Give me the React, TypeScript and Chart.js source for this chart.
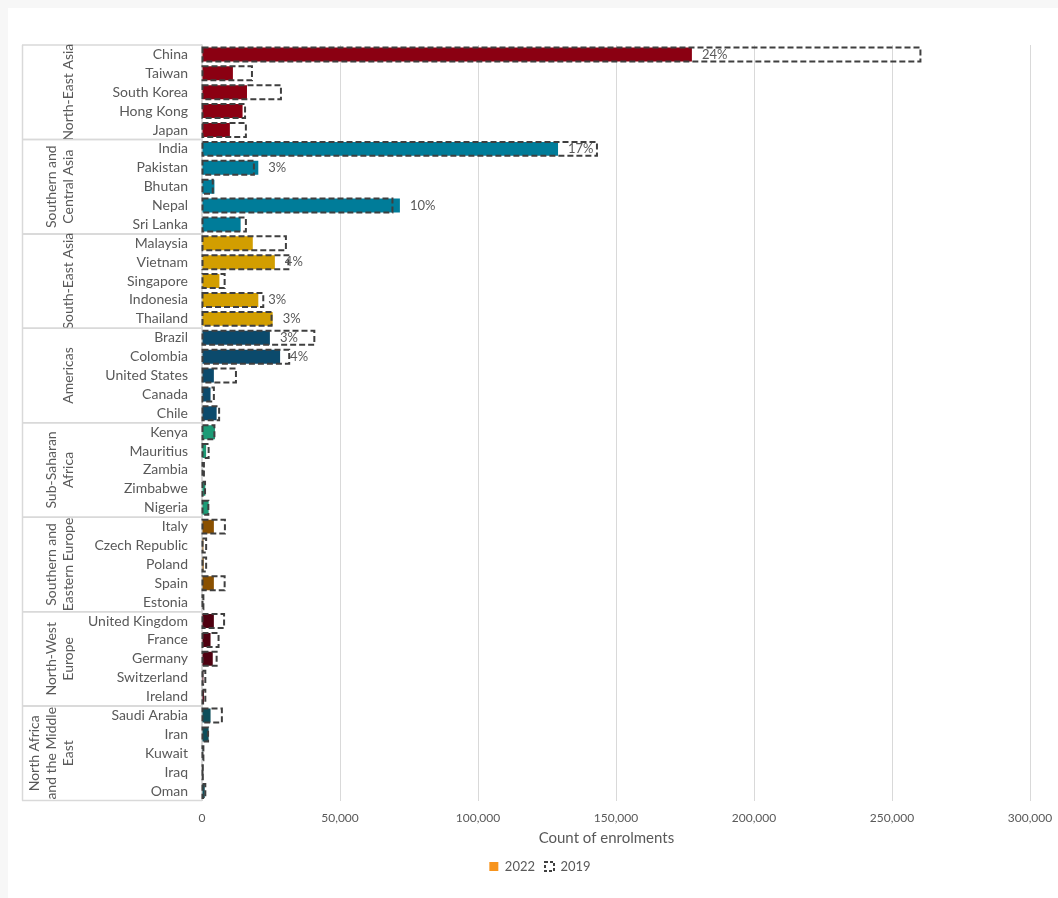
import React, { useEffect, useRef } from 'react';
import { Chart, registerables } from 'chart.js';

Chart.register(...registerables);

const categories = [
  'China', 'Taiwan', 'South Korea', 'Hong Kong', 'Japan',
  'India', 'Pakistan', 'Bhutan', 'Nepal', 'Sri Lanka',
  'Malaysia', 'Vietnam', 'Singapore', 'Indonesia', 'Thailand',
  'Brazil', 'Colombia', 'United States', 'Canada', 'Chile',
  'Kenya', 'Mauritius', 'Zambia', 'Zimbabwe', 'Nigeria',
  'Italy', 'Czech Republic', 'Poland', 'Spain', 'Estonia',
  'United Kingdom', 'France', 'Germany', 'Switzerland', 'Ireland',
  'Saudi Arabia', 'Iran', 'Kuwait', 'Iraq', 'Oman',
];

const groupNames = [
  ['North-East Asia'],
  ['Southern and', 'Central Asia'],
  ['South-East Asia'],
  ['Americas'],
  ['Sub-Saharan', 'Africa'],
  ['Southern and', 'Eastern Europe'],
  ['North-West', 'Europe'],
  ['North Africa', 'and the Middle', 'East'],
];

const groupSizes = [5, 5, 5, 5, 5, 5, 5, 5];

const groupColors = [
  '#8B0012', '#007C99', '#D29E00', '#0B4A6C',
  '#1C9B76', '#8A5000', '#4F0010', '#0D4E5B',
];

const enrol2022 = [
  177500, 11200, 16300, 14700, 10100,
  129000, 20400, 4500, 71700, 14000,
  18400, 26400, 6300, 20400, 25600,
  24600, 28300, 4300, 3100, 5300,
  4700, 1500, 200, 1200, 2400,
  4300, 500, 600, 4300, 200,
  4300, 3100, 3900, 500, 700,
  3100, 2400, 300, 100, 1000,
];

const enrol2019 = [
  260300, 18100, 28600, 15600, 15900,
  143100, 18800, 3900, 69000, 15900,
  30400, 31300, 8200, 22200, 25200,
  40700, 31600, 12300, 4300, 6200,
  4500, 2400, 700, 1100, 2300,
  8300, 1500, 1500, 8200, 500,
  8000, 6000, 5300, 1200, 1200,
  7200, 2200, 500, 300, 1200,
];

const shareLabels = [
  '24%', '', '', '', '',
  '17%', '3%', '', '10%', '',
  '', '4%', '', '3%', '3%',
  '3%', '4%', '', '', '',
  '', '', '', '', '',
  '', '', '', '', '',
  '', '', '', '', '',
  '', '', '', '', '',
];

const seriesNames = ['2022', '2019'];
const xMax = 300000;
const xStep = 50000;

const FONT = 'Lato, "Noto Sans", sans-serif';
const TEXT = '#595959';
const LINE = '#D9D9D9';

const barColors: string[] = [];
groupSizes.forEach((n, g) => {
  for (let i = 0; i < n; i++) barColors.push(groupColors[g]);
});

const overlayPlugin = {
  id: 'overlay',
  afterLayout(chart: any) {
    if (chart.legend) {
      chart.legend.left += 14;
      chart.legend.right += 14;
    }
  },
  afterDatasetsDraw(chart: any) {
    const ctx = chart.ctx;
    const meta19 = chart.getDatasetMeta(1);
    ctx.save();
    ctx.strokeStyle = '#3F3F3F';
    ctx.lineWidth = 2;
    ctx.setLineDash([6, 3]);
    meta19.data.forEach((el: any) => {
      const p = el.getProps(['x', 'y', 'base', 'height'], true);
      ctx.strokeRect(p.base, p.y - p.height / 2, p.x - p.base, p.height);
    });
    ctx.setLineDash([]);
    const meta22 = chart.getDatasetMeta(0);
    ctx.fillStyle = TEXT;
    ctx.font = '13px ' + FONT;
    ctx.textBaseline = 'middle';
    ctx.textAlign = 'left';
    meta22.data.forEach((el: any, i: number) => {
      if (shareLabels[i]) ctx.fillText(shareLabels[i], el.x + 10, el.y);
    });
    ctx.restore();
  },
  afterDraw(chart: any) {
    const ctx = chart.ctx;
    const ys = chart.scales.y;
    const left = ys.left;
    const right = ys.right;
    ctx.save();
    ctx.strokeStyle = LINE;
    ctx.lineWidth = 1.5;
    let start = 0;
    const top = ys.getPixelForValue(-0.5);
    const bottom = ys.getPixelForValue(categories.length - 0.5);
    ctx.beginPath();
    ctx.moveTo(left + 0.5, top);
    ctx.lineTo(left + 0.5, bottom);
    ctx.stroke();
    ctx.fillStyle = TEXT;
    ctx.font = '14px ' + FONT;
    ctx.textAlign = 'center';
    ctx.textBaseline = 'middle';
    groupSizes.forEach((n, g) => {
      const yTop = ys.getPixelForValue(start - 0.5);
      const yBot = ys.getPixelForValue(start + n - 0.5);
      ctx.beginPath();
      ctx.moveTo(left, yTop);
      ctx.lineTo(right, yTop);
      ctx.moveTo(left, yBot);
      ctx.lineTo(right, yBot);
      ctx.stroke();
      const lines = groupNames[g];
      const cy = (yTop + yBot) / 2;
      ctx.save();
      ctx.translate(left + 46, cy);
      ctx.rotate(-Math.PI / 2);
      lines.forEach((t, k) => {
        ctx.fillText(t, 0, (k - (lines.length - 1)) * 17);
      });
      ctx.restore();
      start += n;
    });
    ctx.restore();
  },
};

export default function App() {
  const ref = useRef<HTMLCanvasElement | null>(null);

  useEffect(() => {
    document.body.style.backgroundColor = '#F7F7F7';
    document.body.style.margin = '8px 0 0 8px';
    document.documentElement.style.overflow = 'hidden';
    if (!ref.current) return;
    const chart = new Chart(ref.current, {
      type: 'bar',
      data: {
        labels: categories,
        datasets: [
          {
            label: seriesNames[0],
            data: enrol2022,
            backgroundColor: barColors,
            borderWidth: 0,
            grouped: false,
            categoryPercentage: 1,
            barPercentage: 0.74,
          } as any,
          {
            label: seriesNames[1],
            data: enrol2019,
            backgroundColor: 'rgba(0,0,0,0)',
            borderWidth: 0,
            grouped: false,
            categoryPercentage: 1,
            barPercentage: 0.74,
          } as any,
        ],
      },
      options: {
        indexAxis: 'y',
        responsive: false,
        animation: false,
        layout: { padding: { left: 14, right: 28, top: 37, bottom: 15 } },
        scales: {
          x: {
            min: 0,
            max: xMax,
            ticks: {
              stepSize: xStep,
              color: TEXT,
              font: { family: FONT, size: 12 },
              padding: 0,
              callback: (v: any) => Number(v).toLocaleString('en-US'),
            },
            grid: {
              color: LINE,
              lineWidth: 1,
              drawTicks: true,
              tickLength: 10,
              tickColor: 'rgba(0,0,0,0)',
            },
            border: { display: false },
            title: {
              display: true,
              text: 'Count of enrolments     ',
              color: TEXT,
              font: { family: FONT, size: 15 },
              padding: { top: 0, bottom: 3 },
            },
            afterFit: (s: any) => { s.height = 49.5; },
          },
          y: {
            ticks: {
              autoSkip: false,
              color: TEXT,
              font: { family: FONT, size: 14 },
              padding: 14,
            },
            grid: { display: false, drawTicks: false },
            border: { display: true, color: LINE, width: 1.5 },
            afterFit: (s: any) => { s.width = 180; },
          },
        },
        plugins: {
          legend: {
            position: 'bottom',
            labels: {
              color: TEXT,
              font: { family: FONT, size: 13 },
              boxWidth: 9,
              boxHeight: 9,
              padding: 10,
              generateLabels: () => [
                {
                  text: seriesNames[0],
                  fillStyle: '#F7941D',
                  strokeStyle: '#F7941D',
                  lineWidth: 0,
                  datasetIndex: 0,
                  hidden: false,
                  fontColor: TEXT,
                },
                {
                  text: seriesNames[1],
                  fillStyle: 'rgba(0,0,0,0)',
                  strokeStyle: '#404040',
                  lineWidth: 2,
                  lineDash: [3, 2],
                  datasetIndex: 1,
                  hidden: false,
                  fontColor: TEXT,
                },
              ] as any,
            },
          },
          tooltip: { enabled: false },
        },
      },
      plugins: [overlayPlugin],
    } as any);
    return () => chart.destroy();
  }, []);

  return (
    <div style={{ width: 1050, height: 890, background: '#FFFFFF' }}>
      <canvas ref={ref} width={1050} height={890} style={{ display: 'block' }} />
    </div>
  );
}
